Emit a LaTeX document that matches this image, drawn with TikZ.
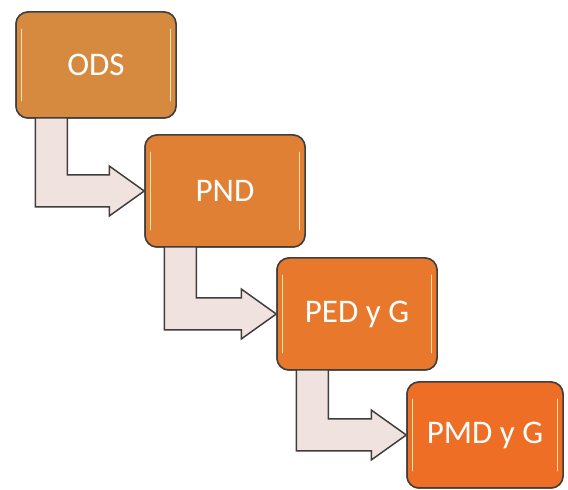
\documentclass[tikz,border=0pt]{standalone}
\usepackage{fontspec}
\setmainfont{Carlito}
\usetikzlibrary{calc}
\definecolor{c1}{RGB}{214,138,64}
\definecolor{c2}{RGB}{224,128,52}
\definecolor{c3}{RGB}{232,120,44}
\definecolor{c4}{RGB}{238,110,38}
\definecolor{arrfill}{RGB}{240,226,222}
\definecolor{edge}{RGB}{64,62,60}
\definecolor{hl}{RGB}{255,226,170}
\tikzset{
  box/.style={draw=edge, line width=1.5pt, rounded corners=12pt, minimum width=160pt, minimum height=108pt, text=white, font=\fontsize{33}{38}\selectfont, inner sep=0pt},
  arrowshape/.style={draw=edge, line width=1.5pt, fill=arrfill, line join=miter},
  highlight/.style={draw=hl, line width=1.4pt, line cap=round}
}
\newcommand{\blockarrow}[2]{%
  \draw[arrowshape] ($(#1.south west)+(20pt,2pt)$) -- ($(#1.south west |- #2.west)+(20pt,-16pt)$)
    -- ($(#2.west)+(-35pt,-16pt)$) -- ($(#2.west)+(-35pt,-25pt)$) -- (#2.west)
    -- ($(#2.west)+(-35pt,25pt)$) -- ($(#2.west)+(-35pt,16pt)$)
    -- ($(#1.south west |- #2.west)+(52pt,16pt)$) -- ($(#1.south west)+(52pt,2pt)$) -- cycle;}
\newcommand{\glints}[1]{%
  \draw[highlight] ($(#1.north west)+(6pt,-18pt)$) -- ($(#1.south west)+(6pt,18pt)$);
  \draw[highlight] ($(#1.north east)+(-6pt,-18pt)$) -- ($(#1.south east)+(-6pt,18pt)$);}
\begin{document}
\begin{tikzpicture}[x=1pt,y=1pt]
\useasboundingbox (0,0) rectangle (568,490);
\coordinate (p1) at (96,425);
\coordinate (p2) at (225,299);
\coordinate (p3) at (357,176);
\coordinate (p4) at (485,55);
\path (p1) node[box, fill=c1, minimum height=106pt] (ods) {ODS};
\path (p2) node[box, fill=c2, minimum height=112pt] (pnd) {PND};
\path (p3) node[box, fill=c3, minimum height=112pt] (ped) {PED y G};
\path (p4) node[box, fill=c4, minimum width=156pt, minimum height=106pt] (pmd) {PMD y G};
\blockarrow{ods}{pnd}
\blockarrow{pnd}{ped}
\blockarrow{ped}{pmd}
\path (p1) node[box, fill=c1, minimum height=106pt] {ODS};
\path (p2) node[box, fill=c2, minimum height=112pt] {PND};
\path (p3) node[box, fill=c3, minimum height=112pt] {PED y G};
\path (p4) node[box, fill=c4, minimum width=156pt, minimum height=106pt] {PMD y G};
\glints{ods}
\glints{pnd}
\glints{ped}
\glints{pmd}
\end{tikzpicture}
\end{document}
